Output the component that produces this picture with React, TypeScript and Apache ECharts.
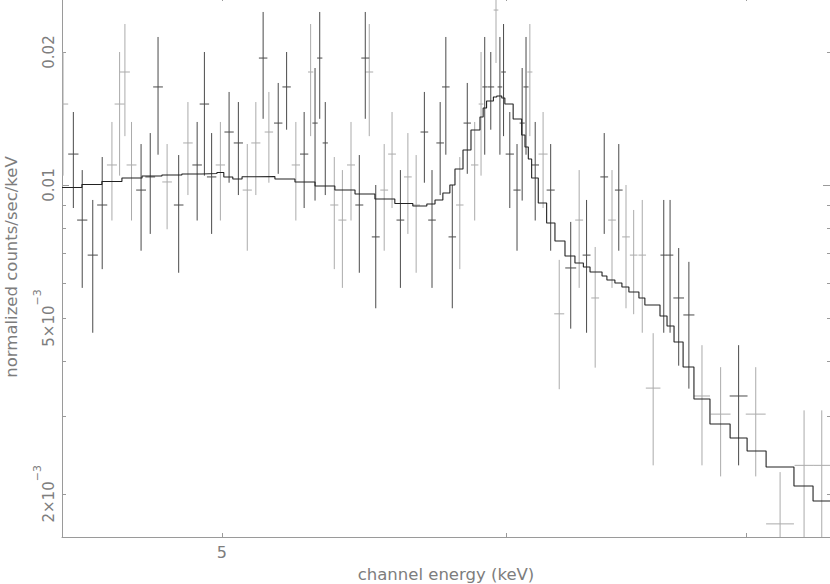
import React, { useEffect, useRef } from 'react';
import * as echarts from 'echarts';

// ---- data (keV, counts/sec/keV) ----
const energy = [
  4.515, 4.545, 4.571, 4.602, 4.630, 4.659, 4.682, 4.698, 4.718, 4.747,
  4.775, 4.799, 4.827, 4.863, 4.892, 4.921, 4.944, 4.967, 4.995, 5.023,
  5.053, 5.082, 5.110, 5.134, 5.153, 5.184, 5.212, 5.243, 5.271, 5.293,
  5.308, 5.324, 5.343, 5.374, 5.402, 5.432, 5.461, 5.482, 5.496, 5.519,
  5.549, 5.577, 5.607, 5.634, 5.664, 5.694, 5.722, 5.752, 5.773, 5.797,
  5.825, 5.853, 5.881, 5.905, 5.919, 5.942, 5.962, 5.977, 5.991, 6.015,
  6.043, 6.063, 6.078, 6.093, 6.114, 6.145, 6.175, 6.209, 6.255, 6.289,
  6.319, 6.354, 6.391, 6.423, 6.451, 6.481, 6.513, 6.549, 6.595, 6.640,
  6.667, 6.704, 6.748, 6.805, 6.887, 6.967, 7.044, 7.155, 7.266, 7.349,
];

const halfWidth = [
  0.015, 0.015, 0.015, 0.015, 0.015, 0.015, 0.015, 0.015, 0.015, 0.015,
  0.015, 0.015, 0.015, 0.015, 0.015, 0.015, 0.015, 0.015, 0.015, 0.015,
  0.015, 0.015, 0.015, 0.014, 0.014, 0.014, 0.014, 0.014, 0.014, 0.009,
  0.009, 0.009, 0.009, 0.014, 0.014, 0.014, 0.014, 0.014, 0.014, 0.014,
  0.014, 0.014, 0.014, 0.014, 0.014, 0.014, 0.014, 0.014, 0.014, 0.014,
  0.014, 0.014, 0.014, 0.009, 0.009, 0.013, 0.009, 0.009, 0.009, 0.016,
  0.014, 0.010, 0.010, 0.010, 0.015, 0.018, 0.016, 0.020, 0.022, 0.016,
  0.016, 0.016, 0.016, 0.016, 0.016, 0.016, 0.016, 0.016, 0.031, 0.014,
  0.014, 0.023, 0.024, 0.035, 0.044, 0.040, 0.045, 0.064, 0.044, 0.040,
];

const rate = [
  0.01525, 0.01175, 0.00833, 0.00694, 0.00901, 0.01110, 0.01525, 0.01802, 0.01110, 0.00974,
  0.01043, 0.01667, 0.01016, 0.00901, 0.01245, 0.01110, 0.01525, 0.01043, 0.01110, 0.01318,
  0.01245, 0.00974, 0.01245, 0.01938, 0.01318, 0.01381, 0.01667, 0.01110, 0.01175, 0.01802,
  0.01381, 0.01938, 0.01245, 0.00901, 0.00833, 0.01110, 0.00901, 0.01938, 0.01802, 0.00763,
  0.00974, 0.01175, 0.00833, 0.01043, 0.00901, 0.01318, 0.00833, 0.01245, 0.01667, 0.00763,
  0.00901, 0.01381, 0.01110, 0.01525, 0.01667, 0.01667, 0.02489, 0.01667, 0.01802, 0.01175,
  0.00974, 0.01381, 0.01667, 0.01802, 0.01110, 0.01175, 0.00974, 0.00511, 0.00649, 0.00833,
  0.00694, 0.00555, 0.01043, 0.00833, 0.00974, 0.00763, 0.00694, 0.00694, 0.00347, 0.00694,
  0.00694, 0.00555, 0.00508, 0.00333, 0.00303, 0.00333, 0.00303, 0.00171, 0.00232, 0.00232,
];

const rateErr = [
  0.00475, 0.00288, 0.00248, 0.00231, 0.00256, 0.00279, 0.00475, 0.00512, 0.00279, 0.00264,
  0.00268, 0.00496, 0.00222, 0.00268, 0.00296, 0.00279, 0.00475, 0.00268, 0.00279, 0.00306,
  0.00296, 0.00264, 0.00296, 0.00526, 0.00306, 0.00321, 0.00333, 0.00279, 0.00288, 0.00512,
  0.00459, 0.00526, 0.00296, 0.00256, 0.00248, 0.00279, 0.00268, 0.00526, 0.00512, 0.00237,
  0.00264, 0.00288, 0.00248, 0.00268, 0.00268, 0.00306, 0.00248, 0.00296, 0.00496, 0.00237,
  0.00256, 0.00321, 0.00279, 0.00475, 0.00496, 0.00333, 0.00600, 0.00496, 0.00512, 0.00288,
  0.00264, 0.00459, 0.00496, 0.00512, 0.00279, 0.00288, 0.00264, 0.00166, 0.00176, 0.00248,
  0.00231, 0.00169, 0.00268, 0.00248, 0.00264, 0.00237, 0.00184, 0.00231, 0.00115, 0.00231,
  0.00231, 0.00165, 0.00162, 0.00101, 0.00084, 0.00101, 0.00084, 0.00053, 0.00077, 0.00077,
];

// 0 = dark data group, 1 = light data group
const shade = [
  1, 0, 0, 0, 0, 1, 1, 1, 1, 0,
  0, 0, 1, 0, 1, 0, 0, 0, 1, 0,
  0, 1, 1, 0, 1, 0, 0, 1, 0, 1,
  0, 0, 0, 1, 1, 1, 0, 0, 1, 0,
  1, 1, 0, 1, 1, 0, 0, 0, 0, 0,
  1, 0, 1, 1, 0, 0, 1, 0, 0, 0,
  0, 0, 0, 1, 0, 1, 0, 1, 0, 1,
  0, 1, 0, 1, 0, 1, 1, 1, 1, 0,
  0, 0, 0, 1, 1, 0, 1, 1, 1, 1,
];

// model: bin edges (keV) and folded model rate per bin
const modelEdges = [
  4.512, 4.570, 4.629, 4.689, 4.750, 4.811, 4.873, 4.936, 4.984, 5.006,
  5.035, 5.065, 5.107, 5.173, 5.240, 5.308, 5.376, 5.446, 5.516, 5.587,
  5.652, 5.703, 5.733, 5.762, 5.788, 5.807, 5.837, 5.867, 5.901, 5.913,
  5.926, 5.952, 5.965, 5.984, 5.996, 6.028, 6.061, 6.074, 6.087, 6.100,
  6.126, 6.159, 6.192, 6.232, 6.272, 6.306, 6.333, 6.382, 6.402, 6.435,
  6.464, 6.493, 6.535, 6.560, 6.624, 6.654, 6.684, 6.723, 6.770, 6.840,
  6.929, 7.005, 7.091, 7.219, 7.308, 7.388,
];

const modelRate = [
  0.009871, 0.010026, 0.010184, 0.010372, 0.010480, 0.010535, 0.010590, 0.010618, 0.010673, 0.010426,
  0.010318, 0.010442, 0.010453, 0.010318, 0.010158, 0.009948, 0.009743, 0.009542, 0.009296, 0.009081,
  0.008963, 0.009057, 0.009248, 0.009592, 0.010000, 0.010870, 0.012001, 0.013320, 0.014253, 0.014938,
  0.015493, 0.015819, 0.015902, 0.015737, 0.015253, 0.014105, 0.012977, 0.012190, 0.011451, 0.010372,
  0.009105, 0.008203, 0.007469, 0.006907, 0.006660, 0.006522, 0.006355, 0.006223, 0.006095, 0.006000,
  0.005877, 0.005726, 0.005549, 0.005350, 0.005052, 0.004796, 0.004412, 0.003873, 0.003278, 0.002878,
  0.002675, 0.002500, 0.002300, 0.002083, 0.001927,
];

// axis ticks / labels
const xTickValues = [5, 6, 7];
const xLabelValues = [5];
const yTickValues = [0.002, 0.003, 0.004, 0.005, 0.006, 0.007, 0.008, 0.009, 0.01, 0.02];
const yMajorTickValues = [0.01];
const yLabelValues = [0.002, 0.005, 0.01, 0.02];
const yLabelBase = ['2×10', '5×10', '0.01', '0.02'];
const yLabelExp = ['−3', '−3', '', ''];

const X_MIN = 4.512;
const X_MAX = 7.388;
const Y_MIN = 0.001597;
const Y_MAX = 0.02664;

const FONT = 'DejaVu Sans';
const TEXT = '#7d7d7d';
const AXIS = '#9a9a9a';
const DARK = '#4a4a4a';
const LIGHT = '#ababab';

export default function App() {
  const ref = useRef<HTMLDivElement>(null);

  useEffect(() => {
    document.body.style.margin = '0';
    const chart = echarts.init(ref.current as HTMLDivElement, null, { renderer: 'svg' });

    const groups: number[][][] = [[], []];
    energy.forEach((e, i) => {
      groups[shade[i]].push([e, halfWidth[i], rate[i], rateErr[i]]);
    });

    const modelPts: number[][] = [];
    modelRate.forEach((m, i) => {
      modelPts.push([modelEdges[i], m], [modelEdges[i + 1], m]);
    });

    const makeErrSeries = (data: number[][], color: string, z: number) => ({
      type: 'custom',
      xAxisIndex: 0,
      yAxisIndex: 0,
      clip: true,
      z,
      silent: true,
      encode: { x: 0, y: 2 },
      data,
      renderItem: (_p: any, api: any) => {
        const e = api.value(0);
        const hw = api.value(1);
        const v = api.value(2);
        const er = api.value(3);
        const l = api.coord([e - hw, v]);
        const r = api.coord([e + hw, v]);
        const t = api.coord([e, v + er]);
        const b = api.coord([e, Math.max(v - er, 1e-5)]);
        const style = { stroke: color, lineWidth: 1 };
        return {
          type: 'group',
          children: [
            { type: 'line', shape: { x1: l[0], y1: l[1], x2: r[0], y2: r[1] }, style },
            { type: 'line', shape: { x1: t[0], y1: t[1], x2: b[0], y2: b[1] }, style },
          ],
        };
      },
    });

    const yFormatter = (val: number) => {
      const idx = yLabelValues.findIndex((v) => Math.abs(val - v) / v < 1e-4);
      if (idx < 0) return '';
      return yLabelExp[idx]
        ? `{b|${yLabelBase[idx]}}{s|${yLabelExp[idx]}}`
        : `{b|${yLabelBase[idx]}}`;
    };

    const baseY = {
      type: 'log',
      logBase: 10,
      min: Y_MIN,
      max: Y_MAX,
      splitLine: { show: false },
      minorTick: { show: false },
      minorSplitLine: { show: false },
    };

    const option: any = {
      animation: false,
      backgroundColor: '#ffffff',
      grid: {
        left: 62,
        right: 0,
        top: -3,
        bottom: 47,
        containLabel: false,
        outerBoundsMode: 'none',
      },
      xAxis: [
        {
          type: 'log',
          logBase: 10,
          min: X_MIN,
          max: X_MAX,
          position: 'bottom',
          axisLine: { show: true, onZero: false, lineStyle: { color: AXIS, width: 1 } },
          axisTick: { show: true, inside: true, length: 4, customValues: xTickValues, lineStyle: { color: AXIS } },
          axisLabel: { customValues: xLabelValues, margin: 7, color: TEXT, fontSize: 16, fontFamily: FONT },
          splitLine: { show: false },
          minorTick: { show: false },
          name: 'channel energy (keV)',
          nameLocation: 'middle',
          nameGap: 29,
          nameTextStyle: { color: TEXT, fontSize: 16.5, fontFamily: FONT },
        },
        {
          type: 'log',
          logBase: 10,
          min: X_MIN,
          max: X_MAX,
          position: 'top',
          axisLine: { show: true, onZero: false, lineStyle: { color: AXIS, width: 1 } },
          axisTick: { show: true, inside: true, length: 4, customValues: xTickValues, lineStyle: { color: AXIS } },
          axisLabel: { show: false },
          splitLine: { show: false },
          minorTick: { show: false },
        },
      ],
      yAxis: [
        {
          ...baseY,
          position: 'left',
          axisLine: { show: true, onZero: false, lineStyle: { color: AXIS, width: 1 } },
          axisTick: { show: true, inside: true, length: 4, customValues: yTickValues, lineStyle: { color: AXIS } },
          axisLabel: {
            customValues: yLabelValues,
            rotate: 90,
            margin: 6,
            formatter: yFormatter,
            rich: {
              b: { fontSize: 15, lineHeight: 24, verticalAlign: 'bottom', color: TEXT, fontFamily: FONT },
              s: { fontSize: 11, lineHeight: 11, verticalAlign: 'top', color: TEXT, fontFamily: FONT },
            },
          },
          name: 'normalized counts/sec/keV',
          nameLocation: 'middle',
          nameGap: 42,
          nameRotate: 90,
          nameTextStyle: { color: TEXT, fontSize: 16.5, fontFamily: FONT },
        },
        {
          ...baseY,
          position: 'right',
          axisLine: { show: true, onZero: false, lineStyle: { color: AXIS, width: 1 } },
          axisTick: { show: true, inside: true, length: 3, customValues: yTickValues, lineStyle: { color: AXIS } },
          axisLabel: { show: false },
        },
        {
          ...baseY,
          position: 'left',
          axisLine: { show: false },
          axisTick: { show: true, inside: true, length: 7, customValues: yMajorTickValues, lineStyle: { color: AXIS } },
          axisLabel: { show: false },
        },
        {
          ...baseY,
          position: 'right',
          axisLine: { show: false },
          axisTick: { show: true, inside: true, length: 7, customValues: yMajorTickValues, lineStyle: { color: AXIS } },
          axisLabel: { show: false },
        },
      ],
      series: [
        makeErrSeries(groups[1], LIGHT, 2),
        makeErrSeries(groups[0], DARK, 3),
        {
          type: 'line',
          xAxisIndex: 0,
          yAxisIndex: 0,
          data: modelPts,
          showSymbol: false,
          symbol: 'none',
          silent: true,
          z: 4,
          lineStyle: { color: '#222222', width: 1.1 },
        },
      ],
    };

    chart.setOption(option);
    return () => chart.dispose();
  }, []);

  return (
    <div
      ref={ref}
      style={{ position: 'absolute', left: 0, top: 0, width: 830, height: 584 }}
    />
  );
}
